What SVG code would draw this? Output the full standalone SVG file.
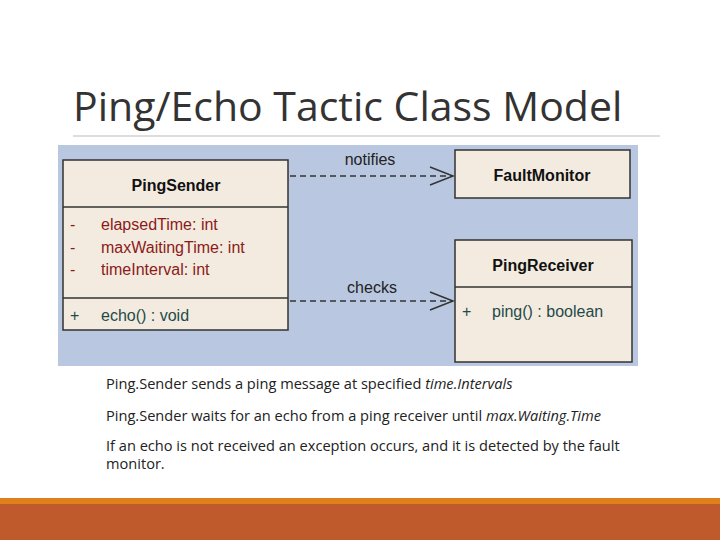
<svg xmlns="http://www.w3.org/2000/svg" width="720" height="540" viewBox="0 0 720 540">
<style>
.box{fill:#f3ebdf;stroke:#333;stroke-width:1.5}
.ln{stroke:#333;stroke-width:1.5}
.t{font-family:"Liberation Sans",Arial,sans-serif}
.h{font-size:16px;font-weight:bold;fill:#111;text-anchor:middle}
.a{font-size:16px;fill:#8b1a1a}
.m{font-size:16px;fill:#1f4a4a}
.lbl{font-size:16px;fill:#222}
.body{font-family:"Open Sans","Liberation Sans",sans-serif;font-size:14.6px;fill:#222}
.dash{stroke:#333;stroke-width:1.5;stroke-dasharray:6,4;fill:none}
</style>
<rect width="720" height="540" fill="#fff"/>
<text x="73" y="121" font-family="Open Sans, Liberation Sans, sans-serif" font-size="41" fill="#333">Ping/Echo Tactic Class Model</text>
<line x1="73" y1="136" x2="660" y2="136" stroke="#bbb" stroke-width="1"/>
<rect x="58" y="145" width="580" height="221" fill="#b9c8e0"/>
<g id="PingSender">
<rect class="box" x="63" y="160" width="225" height="170"/>
<line class="ln" x1="63" y1="207" x2="288" y2="207"/>
<line class="ln" x1="63" y1="298" x2="288" y2="298"/>
<text class="t h" x="176" y="191">PingSender</text>
<text class="t a" x="70" y="230">-</text><text class="t a" x="101" y="230">elapsedTime:  int</text>
<text class="t a" x="70" y="253">-</text><text class="t a" x="101" y="253">maxWaitingTime:  int</text>
<text class="t a" x="70" y="275">-</text><text class="t a" x="101" y="275">timeInterval:  int</text>
<text class="t m" x="70" y="321">+</text><text class="t m" x="101" y="321">echo() : void</text>
</g>
<g id="FaultMonitor">
<rect class="box" x="455" y="150" width="175" height="48"/>
<text class="t h" x="542" y="181">FaultMonitor</text>
</g>
<g id="PingReceiver">
<rect class="box" x="455" y="240" width="177" height="122"/>
<line class="ln" x1="455" y1="287" x2="632" y2="287"/>
<text class="t h" x="543" y="271">PingReceiver</text>
<text class="t m" x="462" y="317">+</text><text class="t m" x="492" y="317">ping() : boolean</text>
</g>
<g id="connectors">
<path class="dash" d="M290,176 H453"/>
<path d="M430,167 L453,176 L430,185" fill="none" stroke="#333" stroke-width="1.5"/>
<text class="t lbl" x="370" y="165" text-anchor="middle">notifies</text>
<path class="dash" d="M290,301 H453"/>
<path d="M430,292 L453,301 L430,310" fill="none" stroke="#333" stroke-width="1.5"/>
<text class="t lbl" x="372" y="293" text-anchor="middle">checks</text>
</g>
<g class="body">
<text x="106" y="389">Ping.Sender sends a ping message at specified <tspan font-style="italic">time.Intervals</tspan></text>
<text x="106" y="421">Ping.Sender waits for an echo from a ping receiver until <tspan font-style="italic">max.Waiting.Time</tspan></text>
<text x="106" y="451">If an echo is not received an exception occurs, and it is detected by the fault</text>
<text x="106" y="469">monitor.</text>
</g>
<rect x="0" y="498" width="720" height="6" fill="#e0801a"/>
<rect x="0" y="504" width="720" height="36" fill="#be5a2c"/>
</svg>
